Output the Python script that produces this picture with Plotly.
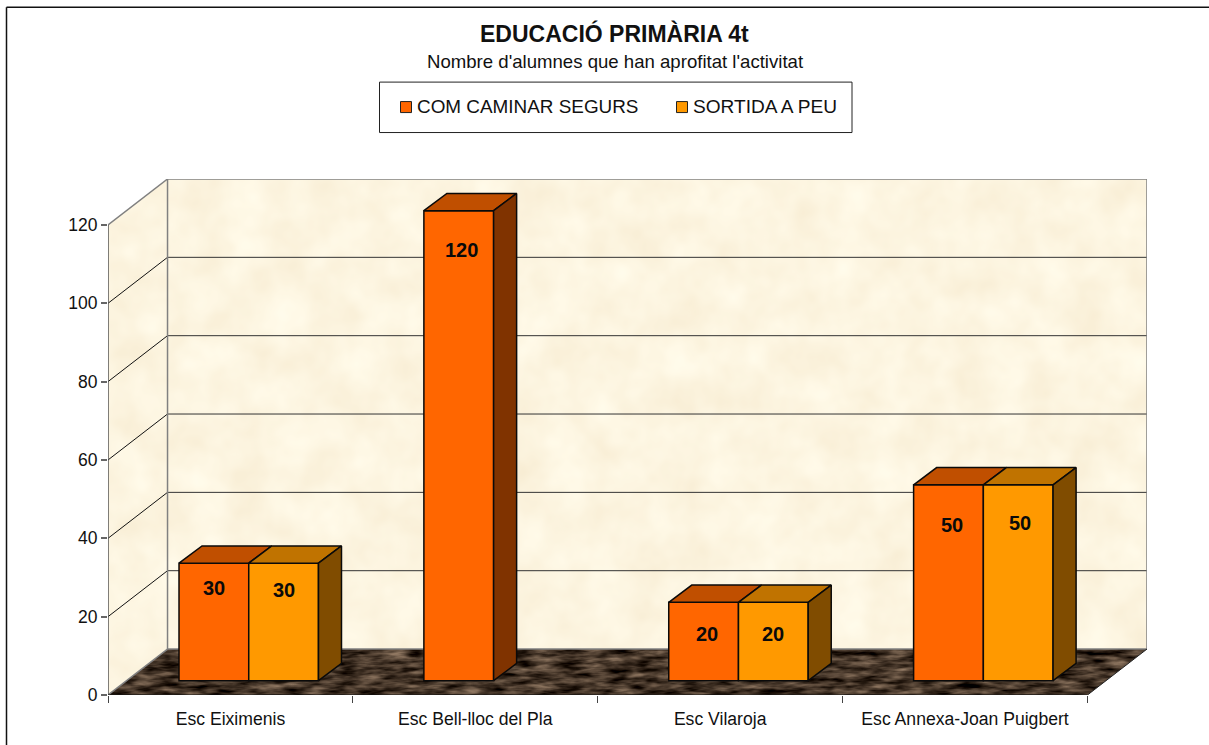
import base64
import plotly.graph_objects as go

# ---- data ----
categories = ["Esc Eiximenis", "Esc Bell-lloc del Pla", "Esc Vilaroja", "Esc Annexa-Joan Puigbert"]
series_a_name = "COM CAMINAR SEGURS"
series_b_name = "SORTIDA A PEU"
series_a = [30, 120, 20, 50]
series_b = [30, None, 20, 50]
y_ticks = [0, 20, 40, 60, 80, 100, 120]
title_text = "EDUCACIÓ PRIMÀRIA 4t"
subtitle_text = "Nombre d'alumnes que han aprofitat l'activitat"

# ---- geometry (style) ----
W, H = 1209, 745
L, R, T, B = 108, 1147, 178.5, 695          # plot area in page pixels
PX_X = 244.75                               # px per category
PX_Y = 3.92                                 # px per unit
WALL_DX, WALL_DY = 59.5 / PX_X, 46 / PX_Y   # oblique offset of back wall
BAR_DX0, BAR_DY0 = 18.3 / PX_X, 14.3 / PX_Y # front plane of bars
BAR_DX, BAR_DY = 23 / PX_X, 17.3 / PX_Y     # bar depth
BAR_W = 69.7 / PX_X
N = len(categories)
Y_MAX = max(y_ticks)
x_top = N + WALL_DX
y_top = Y_MAX + WALL_DY

ORANGE = ("#FF6600", "#C04F00", "#803300")
AMBER = ("#FF9900", "#C07300", "#804C00")
FONT = "Liberation Sans, Arial, sans-serif"


def px(x):
    return (x - L) / (R - L)


def py(y):
    return (B - y) / (B - T)


# ---- textured backdrop ----
def backdrop():
    w, h = R - L, B - T
    dx, dy = 59.5, 46
    wall = f"0,{h} 0,{dy} {dx},0 {w},0 {w},{h-dy} {dx},{h-dy}"
    floor = f"0,{h} {dx},{h-dy} {w},{h-dy} {w-dx},{h}"
    svg = f"""<svg xmlns="http://www.w3.org/2000/svg" width="{w}" height="{h}" viewBox="0 0 {w} {h}">
<defs>
<filter id="w" x="0" y="0" width="100%" height="100%" color-interpolation-filters="sRGB">
<feTurbulence type="fractalNoise" baseFrequency="0.025" numOctaves="3" seed="4"/>
<feColorMatrix type="matrix" values="0.04 0 0 0 0.97  0.07 0 0 0 0.925  0.11 0 0 0 0.825  0 0 0 0 1"/>
<feComposite in2="SourceAlpha" operator="in"/>
</filter>
<filter id="f" x="0" y="0" width="100%" height="100%" color-interpolation-filters="sRGB">
<feTurbulence type="fractalNoise" baseFrequency="0.04 0.18" numOctaves="3" seed="9"/>
<feColorMatrix type="matrix" values="0.85 0 0 0 -0.16  0.75 0 0 0 -0.17  0.65 0 0 0 -0.17  0 0 0 0 1"/>
<feComposite in2="SourceAlpha" operator="in"/>
</filter>
</defs>
<polygon points="{wall}" fill="#fff" filter="url(#w)"/>
<polygon points="{floor}" fill="#fff" filter="url(#f)"/>
</svg>"""
    return "data:image/svg+xml;base64," + base64.b64encode(svg.encode()).decode()


fig = go.Figure()

# ---- front faces ----
for offset, values, name, cols in [(-0.5, series_a, series_a_name, ORANGE), (0.5, series_b, series_b_name, AMBER)]:
    xs = [i + 0.5 + BAR_DX0 + offset * BAR_W for i in range(N)]
    fig.add_trace(go.Bar(
        x=xs, y=values, base=BAR_DY0, width=BAR_W, name=name,
        marker=dict(color=cols[0], line=dict(color="#0a0a0a", width=1.5)),
        hoverinfo="x+y", showlegend=False,
    ))


def poly_trace(polys, color):
    xs, ys = [], []
    for p in polys:
        xs += [a for a, _ in p] + [p[0][0], None]
        ys += [b for _, b in p] + [p[0][1], None]
    fig.add_trace(go.Scatter(
        x=xs, y=ys, mode="lines", fill="toself", fillcolor=color,
        line=dict(color="#0a0a0a", width=1.5), hoverinfo="skip", showlegend=False,
    ))


def top_face(x0, x1, v):
    t = v + BAR_DY0
    return [(x0, t), (x1, t), (x1 + BAR_DX, t + BAR_DY), (x0 + BAR_DX, t + BAR_DY)]


def side_face(x1, v):
    t = v + BAR_DY0
    return [(x1, BAR_DY0), (x1, t), (x1 + BAR_DX, t + BAR_DY), (x1 + BAR_DX, BAR_DY0 + BAR_DY)]


tops_a, tops_b, sides_a, sides_b = [], [], [], []
for i in range(N):
    c = i + 0.5 + BAR_DX0
    tops_a.append(top_face(c - BAR_W, c, series_a[i]))
    if series_b[i] is None:
        sides_a.append(side_face(c, series_a[i]))
    else:
        tops_b.append(top_face(c, c + BAR_W, series_b[i]))
        sides_b.append(side_face(c + BAR_W, series_b[i]))
poly_trace(tops_a, ORANGE[1])
poly_trace(sides_a, ORANGE[2])
poly_trace(tops_b, AMBER[1])
poly_trace(sides_b, AMBER[2])

# ---- walls, grid and axis lines ----
shapes = []


def seg(x0, y0, x1, y1, color, width=1):
    shapes.append(dict(type="line", xref="x", yref="y", x0=x0, y0=y0, x1=x1, y1=y1,
                       layer="below", line=dict(color=color, width=width)))


for v in y_ticks[1:-1]:
    seg(0, v, WALL_DX, v + WALL_DY, "#111111", 1)
    seg(WALL_DX, v + WALL_DY, x_top, v + WALL_DY, "#333333", 1)
seg(WALL_DX, y_top, x_top, y_top, "#808080", 1.5)
seg(0, Y_MAX, WALL_DX, y_top, "#808080", 1.5)
seg(WALL_DX, WALL_DY, WALL_DX, y_top, "#808080", 1.5)
seg(x_top, WALL_DY, x_top, y_top, "#808080", 1.5)
seg(WALL_DX, WALL_DY, x_top, WALL_DY, "#808080", 1.5)
seg(0, 0, WALL_DX, WALL_DY, "#808080", 1.5)
seg(N, 0, x_top, WALL_DY, "#222222", 1)
seg(0, 0, 0, Y_MAX, "#555555", 1.5)
seg(0, 0, N, 0, "#111111", 1)


def page_rect(x0, y0, x1, y1, fill, line, width):
    shapes.append(dict(type="rect", xref="paper", yref="paper", x0=px(x0), x1=px(x1), y0=py(y0), y1=py(y1),
                       fillcolor=fill, line=dict(color=line, width=width), layer="above"))


def page_line(x0, y0, x1, y1):
    shapes.append(dict(type="line", xref="paper", yref="paper", x0=px(x0), x1=px(x1), y0=py(y0), y1=py(y1),
                       line=dict(color="#111111", width=1.5), layer="above"))


# outer frame: only its left and top edges fall inside the page
page_line(6.5, 6.5, 6.5, 760)
page_line(6.5, 6.5, 1230, 6.5)
# legend
page_rect(379.5, 81.5, 852, 132, "white", "#222222", 1)
page_rect(400.5, 101, 411.5, 112, ORANGE[0], "#222222", 1)
page_rect(676.5, 101, 687.5, 112, AMBER[0], "#222222", 1)

annotations = []


def page_text(x, y, text, size, bold=False, anchor="center"):
    annotations.append(dict(xref="paper", yref="paper", x=px(x), y=py(y), text=f"<b>{text}</b>" if bold else text,
                            showarrow=False, xanchor=anchor, yanchor="middle",
                            font=dict(family=FONT, size=size, color="#111111")))


page_text(614.5, 33, title_text, 23, bold=True)
page_text(615, 61, subtitle_text, 18.6)
page_text(414.5, 105.5, series_a_name, 18.9, anchor="left")
page_text(690.5, 105.5, series_b_name, 19.1, anchor="left")

# value labels, with the small hand offsets seen in the picture (px)
label_a = [(0, 25), (3, 39), (3, 32), (4, 40)]
label_b = [(0, 27), None, (0, 32), (2, 38)]
for off, values, shifts in [(-0.5, series_a, label_a), (0.5, series_b, label_b)]:
    for i, v in enumerate(values):
        if v is None:
            continue
        annotations.append(dict(
            x=i + 0.5 + BAR_DX0 + off * BAR_W, y=v + BAR_DY0, text=f"<b>{v}</b>", showarrow=False,
            xshift=shifts[i][0], yshift=-shifts[i][1], xanchor="center", yanchor="middle",
            font=dict(family=FONT, size=20, color="#0a0a0a"),
        ))

fig.update_layout(
    width=W, height=H, autosize=False,
    margin=dict(l=L, r=W - R, t=T, b=H - B, pad=0),
    paper_bgcolor="white", plot_bgcolor="white",
    barmode="overlay", showlegend=False,
    shapes=shapes, annotations=annotations,
    images=[dict(source=backdrop(), xref="paper", yref="paper", x=0, y=1, sizex=1, sizey=1,
                 xanchor="left", yanchor="top", sizing="stretch", layer="below")],
    xaxis=dict(
        range=[0, x_top], showgrid=False, zeroline=False, showline=False,
        tickmode="array", tickvals=[i + 0.5 for i in range(N)], ticktext=categories, ticks="",
        ticklabelstandoff=11, tickangle=0,
        tickfont=dict(family=FONT, size=17.6, color="#111111"),
        minor=dict(tickmode="array", tickvals=list(range(N + 1)), ticks="outside", ticklen=7, tickwidth=1,
                   tickcolor="#444444", showgrid=False),
    ),
    yaxis=dict(
        range=[0, y_top], showgrid=False, zeroline=False, showline=False,
        tickmode="array", tickvals=y_ticks, ticks="outside", ticklen=6, tickwidth=1.5, tickcolor="#666666",
        tickfont=dict(family=FONT, size=17.5, color="#111111"),
    ),
)

fig.write_html("out.html", config=dict(displayModeBar=False),
               post_script="document.body.style.margin='0';document.body.style.overflow='hidden';")
